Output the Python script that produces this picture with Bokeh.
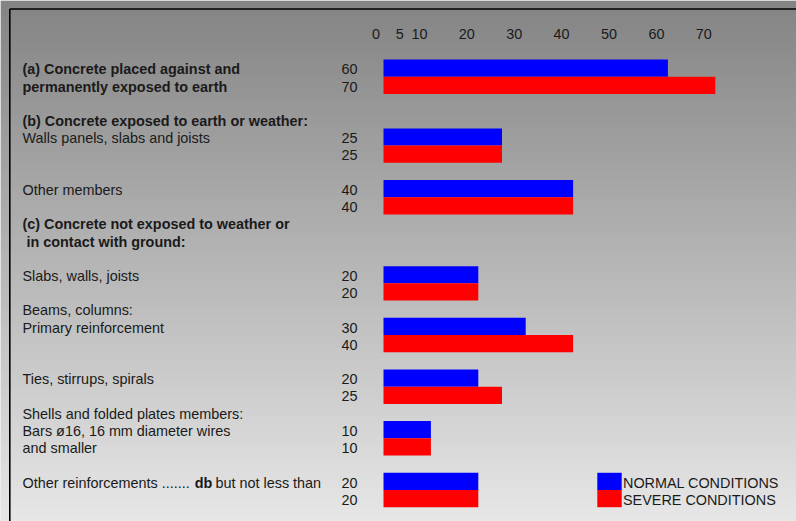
import numpy as np
from bokeh.plotting import figure
from bokeh.models import Range1d, ColumnDataSource
from bokeh.core.properties import value
from bokeh.embed import file_html
from bokeh.resources import INLINE

# ---------------- data ----------------
categories = [
    "(a) Concrete placed against and permanently exposed to earth",
    "Walls panels, slabs and joists",
    "Other members",
    "Slabs, walls, joists",
    "Primary reinforcement",
    "Ties, stirrups, spirals",
    "Bars ø16, 16 mm diameter wires and smaller",
    "Other reinforcements",
]
normal_cover = [60, 25, 40, 20, 30, 20, 10, 20]
severe_cover = [70, 25, 40, 20, 40, 25, 10, 20]
bar_line = [0, 4, 7, 12, 15, 18, 21, 24]          # text line where each pair starts

tick_values = [0, 5, 10, 20, 30, 40, 50, 60, 70]
tick_labels = [str(v) for v in tick_values]

bold_lines = [
    (0, "(a) Concrete placed against and"),
    (1, "permanently exposed to earth"),
    (3, "(b) Concrete exposed to earth or weather:"),
    (9, "(c) Concrete not exposed to weather or"),
    (10, "\u00a0in contact with ground:"),
]
plain_lines = [
    (4, "Walls panels, slabs and joists"),
    (7, "Other members"),
    (12, "Slabs, walls, joists"),
    (14, "Beams, columns:"),
    (15, "Primary reinforcement"),
    (18, "Ties, stirrups, spirals"),
    (20, "Shells and folded plates members:"),
    (21, "Bars ø16, 16 mm diameter wires"),
    (22, "and smaller"),
]
legend_labels = ["NORMAL CONDITIONS", "SEVERE CONDITIONS"]

BLUE = "#0000ff"
RED = "#ff0000"
TXT = "#1a1a1a"
FONT = value("Liberation Sans")
FS = "14.4px"
YOFF = 1.2

# ---------------- layout helpers ----------------
W, H = 796, 521
X0PX, XSCALE = 383.0, 4.74      # pixel of value 0, px per unit
Y0PX, YSCALE = 59.0, 17.22      # pixel of line 0 top, px per text line


def px2x(px):
    return (px - X0PX) / XSCALE


def py2y(py):
    return (py - Y0PX) / YSCALE


x_range = Range1d(px2x(0), px2x(W))
y_range = Range1d(py2y(H), py2y(0))   # reversed: line 0 at the top

p = figure(width=W, height=H, x_range=x_range, y_range=y_range,
           output_backend="svg", toolbar_location=None, min_border=0,
           outline_line_color=None)
p.axis.visible = False
p.grid.visible = False
p.background_fill_color = "#e6e6e6"
p.border_fill_color = "#e6e6e6"

# background gradient
n = 256
t = np.linspace(0, 1, n)
top = np.array([132, 132, 132])
bot = np.array([231, 231, 231])
cols = (top[None, :] * (1 - t[:, None]) + bot[None, :] * t[:, None]).astype(np.uint32)
img = np.empty((n, 2), dtype=np.uint32)
view = img.view(dtype=np.uint8).reshape((n, 2, 4))
for i in range(n):
    view[i, :, 0] = cols[i, 0]
    view[i, :, 1] = cols[i, 1]
    view[i, :, 2] = cols[i, 2]
    view[i, :, 3] = 255
p.image_rgba(image=[img], x=px2x(0), y=py2y(0), dw=px2x(W) - px2x(0),
             dh=py2y(H) - py2y(0))

# frame lines (top and left border)
p.line(x=[px2x(9.3), px2x(W + 5)], y=[py2y(8.5), py2y(8.5)], line_color="black", line_width=1.6)
p.line(x=[px2x(9.3), px2x(9.3)], y=[py2y(8.5), py2y(H + 5)], line_color="black", line_width=1.6)

# bars
src = ColumnDataSource(dict(
    cat=categories,
    normal=normal_cover,
    severe=severe_cover,
    y_n=[b + 0.5 for b in bar_line],
    y_s=[b + 1.5 for b in bar_line],
    n_txt=[str(v) for v in normal_cover],
    s_txt=[str(v) for v in severe_cover],
))
p.hbar(y="y_n", left=0, right="normal", height=1.0, source=src,
       fill_color=BLUE, line_color=None)
p.hbar(y="y_s", left=0, right="severe", height=1.0, source=src,
       fill_color=RED, line_color=None)

# value column
xnum = px2x(357)
p.text(x=xnum, y="y_n", text="n_txt", source=src, text_align="right", y_offset=YOFF,
       text_baseline="middle", text_font=FONT, text_font_size=FS, text_color=TXT)
p.text(x=xnum, y="y_s", text="s_txt", source=src, text_align="right", y_offset=YOFF,
       text_baseline="middle", text_font=FONT, text_font_size=FS, text_color=TXT)

# tick labels (top)
p.text(x=tick_values, y=[py2y(33.5)] * len(tick_values), text=tick_labels,
       x_offset=-3.5, text_align="right", text_baseline="middle",
       text_font=FONT, text_font_size=FS, text_color=TXT)

# left description texts
xl = px2x(22)
p.text(x=[xl] * len(bold_lines), y=[l + 0.5 for l, _ in bold_lines], y_offset=YOFF,
       text=[s for _, s in bold_lines], text_align="left", text_baseline="middle",
       text_font=FONT, text_font_size=FS, text_font_style="bold", text_color=TXT)
p.text(x=[xl] * len(plain_lines), y=[l + 0.5 for l, _ in plain_lines], y_offset=YOFF,
       text=[s for _, s in plain_lines], text_align="left", text_baseline="middle",
       text_font=FONT, text_font_size=FS, text_color=TXT)

# last line with bold "db"
yl = bar_line[-1] + 0.5
p.text(x=[xl], y=[yl], text=["Other reinforcements ......."], text_align="left", y_offset=YOFF,
       text_baseline="middle", text_font=FONT, text_font_size=FS, text_color=TXT)
p.text(x=[px2x(194.3)], y=[yl], text=["db"], text_align="left", y_offset=YOFF,
       text_baseline="middle", text_font=FONT, text_font_size=FS,
       text_font_style="bold", text_color=TXT)
p.text(x=[px2x(215)], y=[yl], text=["but not less than"], text_align="left", y_offset=YOFF,
       text_baseline="middle", text_font=FONT, text_font_size=FS, text_color=TXT)

# legend (manual, aligned to the last pair of bars)
ly = [bar_line[-1] + 0.5, bar_line[-1] + 1.5]
p.rect(x=[px2x(609)] * 2, y=ly, width=24.4 / XSCALE, height=1.0,
       fill_color=[BLUE, RED], line_color=None)
p.text(x=[px2x(622.5)] * 2, y=ly, text=legend_labels, text_align="left", y_offset=YOFF,
       text_baseline="middle", text_font=FONT, text_font_size=FS, text_color=TXT)

open("out.html", "w").write(file_html(p, INLINE))
